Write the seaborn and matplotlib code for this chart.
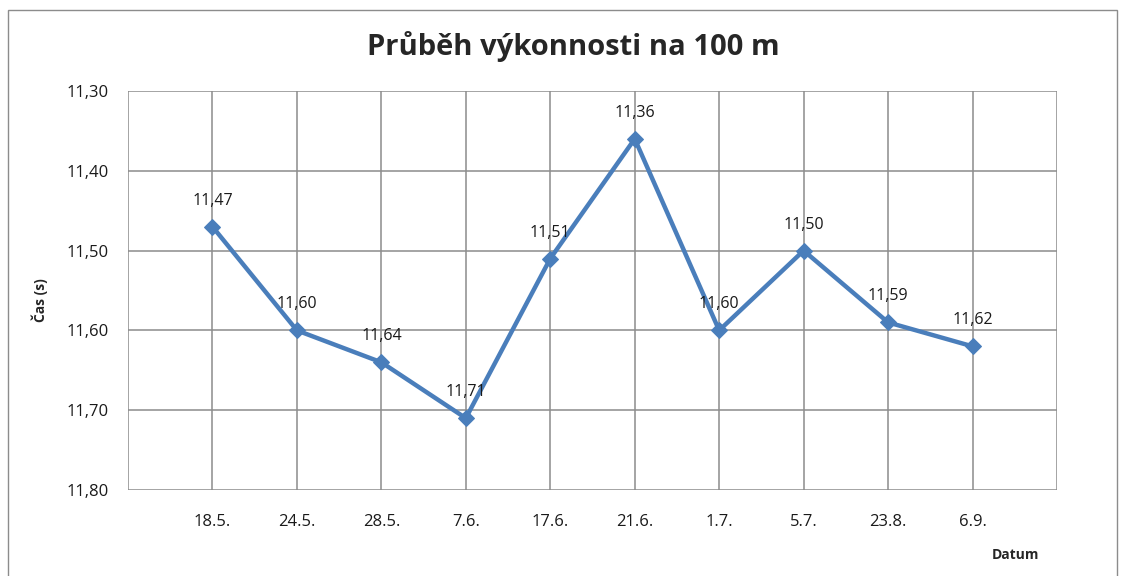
import matplotlib
matplotlib.use("Agg")
import matplotlib.pyplot as plt
import numpy as np
import pandas as pd
import seaborn as sns
from matplotlib.patches import Rectangle

# Data
dates = ["18.5.", "24.5.", "28.5.", "7.6.", "17.6.", "21.6.", "1.7.", "5.7.", "23.8.", "6.9."]
times = [11.47, 11.60, 11.64, 11.71, 11.51, 11.36, 11.60, 11.50, 11.59, 11.62]
y_ticks = [11.30, 11.40, 11.50, 11.60, 11.70, 11.80]

df = pd.DataFrame({"idx": np.arange(len(dates)), "cas": times})

sns.set_style("white")
plt.rcParams["font.family"] = ["Open Sans", "DejaVu Sans"]

line_color = "#4A7EBB"
grid_color = "#8C8C8C"

fig = plt.figure(figsize=(11.24, 5.76), dpi=100)
ax = fig.add_axes([128 / 1124, 1 - 490 / 576, (1057 - 128) / 1124, (490 - 91) / 576])

# Outer chart frame
fig.patches.append(Rectangle((8 / 1124, -0.05), (1117 - 8) / 1124, 1.05 - 10 / 576,
                             transform=fig.transFigure, fill=False,
                             edgecolor="#8C8C8C", linewidth=1.0))

sns.lineplot(data=df, x="idx", y="cas", ax=ax, color=line_color, linewidth=3.2,
             marker="D", markersize=8, markeredgecolor=line_color)

# Data labels
for i, v in enumerate(times):
    ax.annotate(f"{v:.2f}".replace(".", ","), (i, v), xytext=(0, 13),
                textcoords="offset points", ha="center", va="bottom",
                fontsize=11.5, color="#1A1A1A")

ax.set_xlim(-1, len(dates))
ax.set_ylim(11.80, 11.30)
ax.set_yticks(y_ticks)
ax.set_yticklabels([f"{t:.2f}".replace(".", ",") for t in y_ticks], fontsize=12)
ax.set_xticks(range(len(dates)))
ax.set_xticklabels(dates, fontsize=12)
ax.tick_params(axis="both", length=0, colors="#1A1A1A")
ax.tick_params(axis="x", pad=17)
ax.tick_params(axis="y", pad=14)

# Vertical gridlines at every category slot, horizontal at y ticks
for xv in range(-1, len(dates) + 1):
    ax.axvline(xv, color=grid_color, linewidth=1.1, zorder=0)
for yv in y_ticks:
    ax.axhline(yv, color=grid_color, linewidth=1.1, zorder=0)
for s in ax.spines.values():
    s.set_visible(False)

ax.set_xlabel("")
ax.set_ylabel("")
fig.text(40 / 1124, 1 - 300 / 576, "Čas (s)", rotation=90, ha="center", va="center",
         fontsize=10, fontweight="bold")
fig.text(1015 / 1124, 1 - 555 / 576, "Datum", ha="center", va="center",
         fontsize=10, fontweight="bold")
fig.text(573 / 1124, 1 - 47 / 576, "Průběh výkonnosti na 100 m", ha="center", va="center",
         fontsize=21, fontweight="bold")

fig.savefig("out.png", dpi=100)
